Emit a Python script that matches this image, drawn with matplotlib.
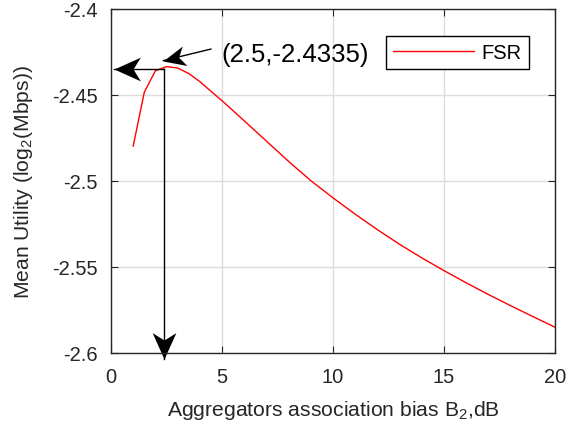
import numpy as np
import matplotlib
matplotlib.use('Agg')
import matplotlib.pyplot as plt
from matplotlib.path import Path
from matplotlib.markers import MarkerStyle
from matplotlib.transforms import Affine2D

plt.rcParams['font.family'] = ['Liberation Sans', 'DejaVu Sans']
plt.rcParams['mathtext.fontset'] = 'custom'
plt.rcParams['mathtext.rm'] = 'Liberation Sans'
plt.rcParams['mathtext.it'] = 'Liberation Sans:italic'
plt.rcParams['axes.unicode_minus'] = False

# data
bias_db = [1, 1.5, 2, 2.5, 3, 3.5, 4, 4.5, 5, 6, 7, 8, 9, 10,
           11, 12, 13, 14, 15, 16, 17, 18, 19, 20]
utility = [-2.4797, -2.4484, -2.4359, -2.4335, -2.4343, -2.4375, -2.4422, -2.4478,
           -2.4533, -2.4650, -2.4768, -2.4886, -2.4998, -2.5098,
           -2.5193, -2.5283, -2.5368, -2.5447, -2.5521, -2.5592, -2.5660, -2.5725,
           -2.5788, -2.5850]

xticks = [0, 5, 10, 15, 20]
yticks = [-2.6, -2.55, -2.5, -2.45, -2.4]
ytick_labels = ['-2.6', '-2.55', '-2.5', '-2.45', '-2.4']

peak_label = '(2.5,-2.4335)'
guide_x = 2.4          # where the drawn guide lines sit
guide_y = -2.4348
text_tip = (2.36, -2.430)
text_tail = (4.5, -2.4233)

dark = '#262626'

fig = plt.figure(figsize=(5.76, 4.31), dpi=100)
ax = fig.add_axes([0.1927, 0.1787, 0.7708, 0.7981])

ax.plot(bias_db, utility, color='red', lw=1.0, label='FSR')

ax.set_xlim(0, 20)
ax.set_ylim(-2.6, -2.4)
ax.set_xticks(xticks)
ax.set_yticks(yticks)
ax.set_yticklabels(ytick_labels)
ax.grid(True, color='#dcdcdc', lw=1.0)
ax.set_axisbelow(True)
ax.tick_params(direction='in', top=True, right=True, length=5, width=0.8,
               colors=dark, labelsize=14.5, labelcolor=dark)
ax.tick_params(axis='x', pad=10)
ax.tick_params(axis='y', pad=9.5)
for s in ax.spines.values():
    s.set_color(dark)
    s.set_linewidth(1.0)

ax.set_xlabel(r'Aggregators association bias B$_{\mathrm{2}}$,dB', fontsize=15.2,
              color=dark, labelpad=8.5)
ax.set_ylabel(r'Mean Utility (log$_{\mathrm{2}}$(Mbps))', fontsize=15.2,
              color=dark, labelpad=12)

leg = ax.legend(loc='upper right', bbox_to_anchor=(0.9414, 0.9215), borderaxespad=0,
                fancybox=False, framealpha=1, edgecolor='black', fontsize=14.5,
                handlelength=4.0, handletextpad=0.4, borderpad=0.35)
leg.get_frame().set_linewidth(1.0)

# guide lines with matlab style arrow heads
head = Path([(0, 0), (-1, 0.45), (-0.72, 0), (-1, -0.45), (0, 0)],
            [Path.MOVETO, Path.LINETO, Path.LINETO, Path.LINETO, Path.CLOSEPOLY])


def arrow(x0, y0, x1, y1, size=38):
    ax.plot([x0, x1], [y0, y1], color='black', lw=1.0, clip_on=False)
    p0 = ax.transData.transform((x0, y0))
    p1 = ax.transData.transform((x1, y1))
    ang = np.degrees(np.arctan2(p1[1] - p0[1], p1[0] - p0[0]))
    m = MarkerStyle(head, transform=Affine2D().rotate_deg(ang))
    ax.plot([x1], [y1], marker=m, ms=size, color='black', mew=0, clip_on=False)


arrow(guide_x, guide_y, 0.12, guide_y)
arrow(guide_x, guide_y, guide_x, -2.6035)
arrow(text_tail[0], text_tail[1], text_tip[0], text_tip[1], size=32)
ax.text(4.95, -2.4262, peak_label, fontsize=18.5, color='black', va='center', ha='left')

fig.savefig('out.png', dpi=100)
